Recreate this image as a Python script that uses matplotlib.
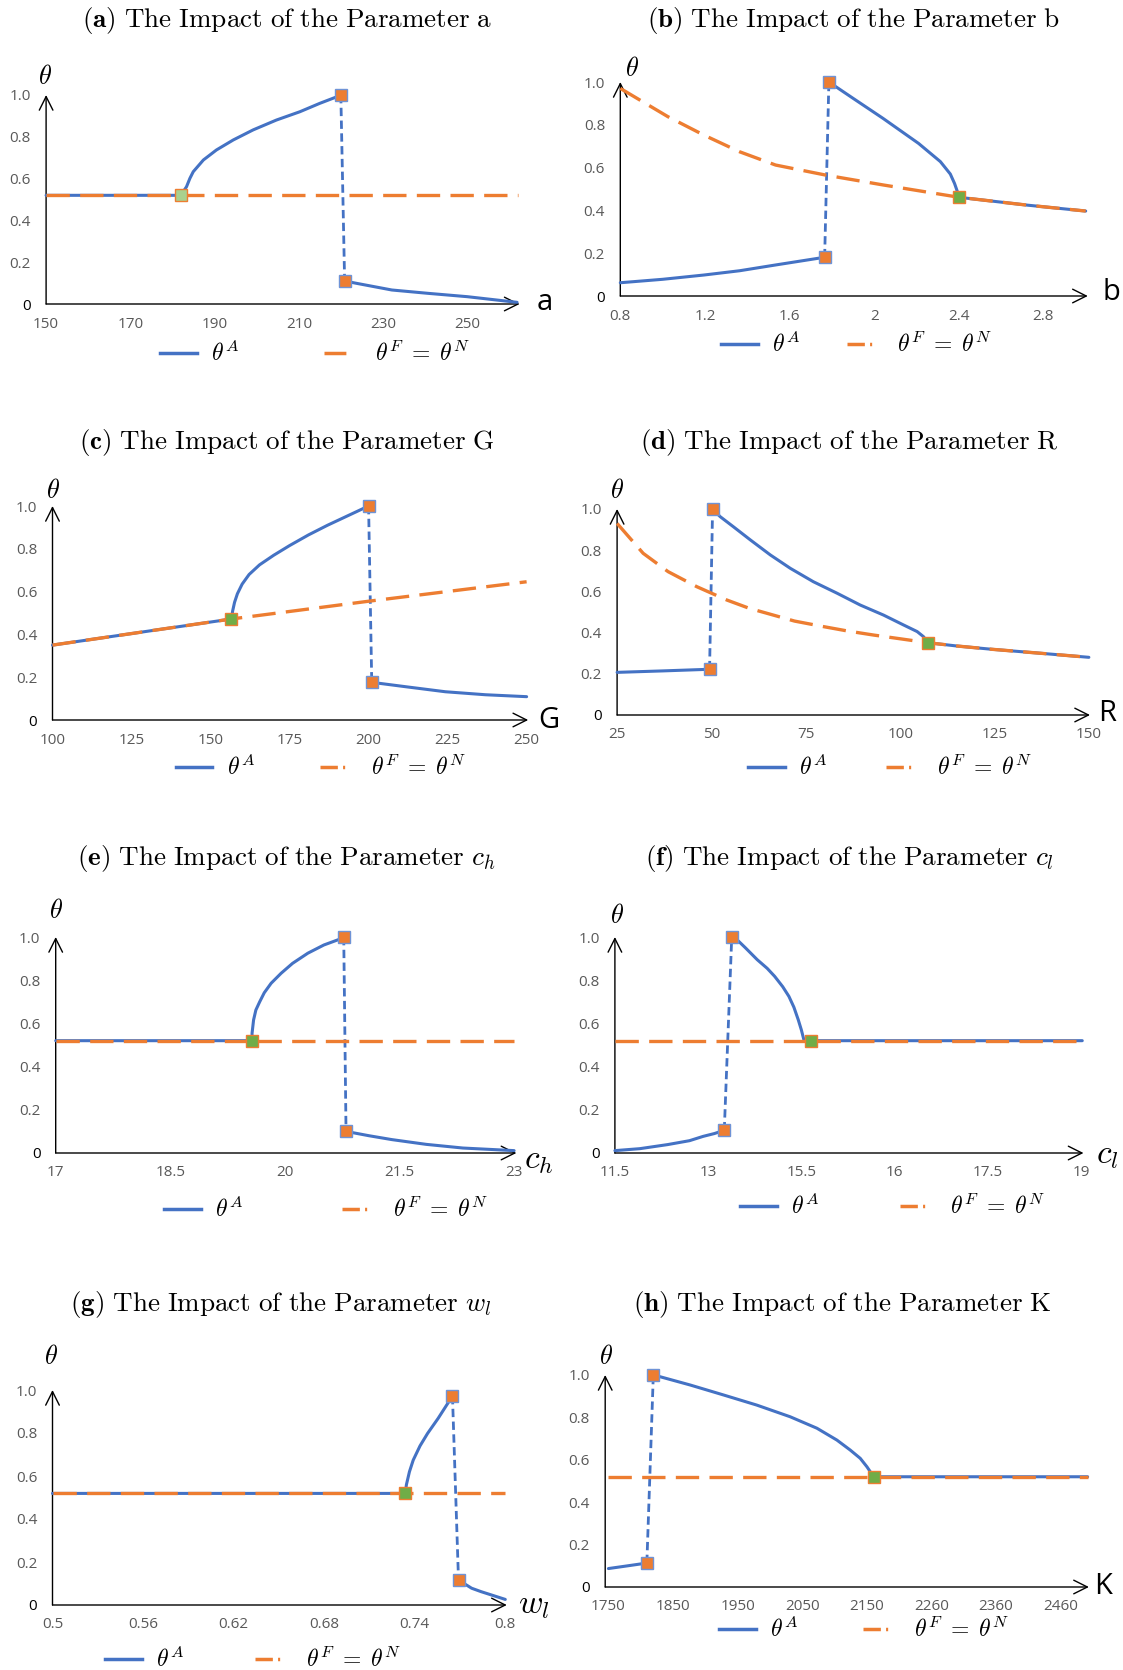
import matplotlib
matplotlib.use('Agg')
import matplotlib.pyplot as plt
from matplotlib.lines import Line2D

plt.rcParams['mathtext.fontset'] = 'cm'
plt.rcParams['font.family'] = ['Open Sans', 'DejaVu Sans']

BLUE = '#4472C4'
ORANGE = '#ED7D31'
GREEN = '#70AD47'
LGREEN = '#A9D18E'
GRAY = '#595959'

# ---------------- data ----------------
y_ticks = [0, 0.2, 0.4, 0.6, 0.8, 1.0]
y_ticklabels = ['0', '0.2', '0.4', '0.6', '0.8', '1.0']

# (a) parameter a
a_ticks = [150, 170, 190, 210, 230, 250]
a_ticklabels = ['150', '170', '190', '210', '230', '250']
a_ff_x = [150, 262]
a_ff_y = [0.52, 0.52]
a_A1_x = [150, 182.1, 182.6, 183.3, 184.1, 184.9, 187.3, 190.4, 194.4, 199.1, 204.6, 210.2, 214.9, 218.9, 219.9]
a_A1_y = [0.52, 0.52, 0.54, 0.561, 0.601, 0.633, 0.689, 0.737, 0.785, 0.833, 0.880, 0.920, 0.960, 0.991, 1.0]
a_A2_x = [220.8, 223.6, 232, 240.6, 249.9, 261.7]
a_A2_y = [0.11, 0.099, 0.067, 0.051, 0.035, 0.008]
a_jump_x = [219.9, 220.8]
a_jump_y = [1.0, 0.11]
a_green = (182.1, 0.52)

# (b) parameter b
b_ticks = [0.8, 1.2, 1.6, 2.0, 2.4, 2.8]
b_ticklabels = ['0.8', '1.2', '1.6', '2', '2.4', '2.8']
b_ff_x = [0.8, 1.025, 1.195, 1.364, 1.534, 1.771, 2.042, 2.403, 2.72, 3.0]
b_ff_y = [0.97, 0.838, 0.752, 0.674, 0.612, 0.565, 0.519, 0.461, 0.425, 0.397]
b_A1_x = [0.8, 1.0, 1.195, 1.364, 1.534, 1.766]
b_A1_y = [0.062, 0.078, 0.098, 0.118, 0.145, 0.181]
b_A2_x = [1.786, 1.9, 2.042, 2.21, 2.313, 2.36, 2.38, 2.403, 2.72, 3.0]
b_A2_y = [1.0, 0.924, 0.83, 0.713, 0.628, 0.57, 0.526, 0.461, 0.425, 0.397]
b_jump_x = [1.766, 1.786]
b_jump_y = [0.181, 1.0]
b_green = (2.403, 0.461)

# (c) parameter G
c_ticks = [100, 125, 150, 175, 200, 225, 250]
c_ticklabels = ['100', '125', '150', '175', '200', '225', '250']
c_ff_x = [100, 156.6, 200, 250]
c_ff_y = [0.35, 0.472, 0.555, 0.646]
c_A1_x = [100, 156.6, 157.0, 157.6, 158.5, 160.0, 162.2, 165.5, 170, 175, 181, 187, 193.5, 200]
c_A1_y = [0.35, 0.472, 0.51, 0.55, 0.59, 0.635, 0.68, 0.725, 0.77, 0.815, 0.865, 0.91, 0.955, 1.0]
c_A2_x = [201, 212, 224.3, 237, 250]
c_A2_y = [0.176, 0.155, 0.132, 0.118, 0.109]
c_jump_x = [200, 201]
c_jump_y = [1.0, 0.176]
c_green = (156.6, 0.472)

# (d) parameter R
d_ticks = [25, 50, 75, 100, 125, 150]
d_ticklabels = ['25', '50', '75', '100', '125', '150']
d_ff_x = [25, 31.9, 38.5, 46.1, 54.1, 60, 66.4, 72, 79.7, 86, 93, 100, 107.3, 115, 124.3, 137, 150]
d_ff_y = [0.93, 0.785, 0.696, 0.623, 0.558, 0.518, 0.485, 0.456, 0.429, 0.408, 0.388, 0.37, 0.351, 0.335, 0.319, 0.30, 0.28]
d_A1_x = [25, 37, 49.5]
d_A1_y = [0.207, 0.214, 0.222]
d_A2_x = [50.3, 52.3, 55.8, 60.3, 65.6, 70.9, 77.0, 83.3, 89.4, 95.6, 100.9, 104.5, 106.2, 107.3, 115, 124.3, 137, 150]
d_A2_y = [1.0, 0.963, 0.914, 0.850, 0.777, 0.712, 0.647, 0.591, 0.534, 0.485, 0.437, 0.405, 0.380, 0.351, 0.335, 0.319, 0.30, 0.28]
d_jump_x = [49.5, 50.3]
d_jump_y = [0.222, 1.0]
d_green = (107.3, 0.351)

# (e) parameter c_h
e_ticks = [17, 18.5, 20, 21.5, 23]
e_ticklabels = ['17', '18.5', '20', '21.5', '23']
e_ff_x = [17, 23]
e_ff_y = [0.52, 0.52]
e_A1_x = [17, 19.57, 19.57, 19.59, 19.62, 19.67, 19.73, 19.82, 19.95, 20.10, 20.30, 20.51, 20.71, 20.77]
e_A1_y = [0.52, 0.52, 0.554, 0.616, 0.662, 0.700, 0.742, 0.786, 0.832, 0.878, 0.925, 0.963, 0.989, 1.0]
e_A2_x = [20.8, 21.1, 21.4, 21.85, 22.33, 23.0]
e_A2_y = [0.10, 0.08, 0.062, 0.04, 0.023, 0.011]
e_jump_x = [20.77, 20.8]
e_jump_y = [1.0, 0.10]
e_green = (19.57, 0.52)

# (f) parameter c_l
f_ticks = [11.5, 13, 14.5, 16, 17.5, 19]
f_ticklabels = ['11.5', '13', '15.5', '16', '17.5', '19']
f_ff_x = [11.5, 19.02]
f_ff_y = [0.52, 0.52]
f_A1_x = [11.5, 11.9, 12.35, 12.7, 12.92, 13.1, 13.26]
f_A1_y = [0.011, 0.02, 0.039, 0.057, 0.077, 0.09, 0.105]
f_A2_x = [13.42, 13.6, 13.79, 13.95, 14.07, 14.2, 14.3, 14.38, 14.45, 14.5, 14.54, 14.66, 19.02]
f_A2_y = [1.0, 0.95, 0.895, 0.855, 0.818, 0.77, 0.725, 0.675, 0.617, 0.57, 0.525, 0.52, 0.52]
f_jump_x = [13.26, 13.38]
f_jump_y = [0.105, 1.0]
f_green = (14.66, 0.52)

# (g) parameter w_l
g_ticks = [0.5, 0.56, 0.62, 0.68, 0.74, 0.8]
g_ticklabels = ['0.5', '0.56', '0.62', '0.68', '0.74', '0.8']
g_ff_x = [0.5, 0.8]
g_ff_y = [0.519, 0.519]
g_A1_x = [0.5, 0.7337, 0.7345, 0.7365, 0.739, 0.7435, 0.7485, 0.7555, 0.765]
g_A1_y = [0.519, 0.519, 0.56, 0.62, 0.674, 0.74, 0.798, 0.868, 0.972]
g_A2_x = [0.769, 0.7777, 0.784, 0.80]
g_A2_y = [0.116, 0.078, 0.062, 0.026]
g_jump_x = [0.765, 0.769]
g_jump_y = [0.972, 0.116]
g_green = (0.7337, 0.519)

# (h) parameter K
h_ticks = [1750, 1850, 1950, 2050, 2150, 2250, 2350, 2450]
h_ticklabels = ['1750', '1850', '1950', '2050', '2150', '2260', '2360', '2460']
h_ff_x = [1750, 2492]
h_ff_y = [0.52, 0.52]
h_A1_x = [1750, 1780, 1809.5]
h_A1_y = [0.087, 0.10, 0.113]
h_A2_x = [1819.5, 1829.8, 1876.4, 1928, 1979.8, 2031.4, 2072.8, 2103.8, 2124.4, 2139.9, 2150.3, 2155.4, 2160.5, 2492]
h_A2_y = [1.0, 0.992, 0.953, 0.906, 0.858, 0.803, 0.749, 0.693, 0.646, 0.607, 0.567, 0.544, 0.52, 0.52]
h_jump_x = [1809.5, 1819.5]
h_jump_y = [0.113, 1.0]
h_green = (2160.5, 0.52)

# ---------------- layout ----------------
W, H = 1123, 1670
fig = plt.figure(figsize=(W / 100, H / 100), dpi=100)


def fx(px):
    return px / W


def fy(py):
    return 1 - py / H


panels = [
    dict(title=r'$\mathbf{(a)}\ \mathrm{The\ Impact\ of\ the\ Parameter\ a}$', tpos=(287, 21),
         rect=(46.1, 519.6, 95, 304), xlim=(150, 262.3), ticks=a_ticks, tl=a_ticklabels,
         ff=(a_ff_x, a_ff_y), A1=(a_A1_x, a_A1_y), A2=(a_A2_x, a_A2_y), jump=(a_jump_x, a_jump_y),
         green=a_green, gcol=LGREEN, theta=(45, 77), xl='a', xlmath=False, xlpos=(545, 303),
         leg=(315, 354), colsp=3.6, legstyle='plain'),
    dict(title=r'$\mathbf{(b)}\ \mathrm{The\ Impact\ of\ the\ Parameter\ b}$', tpos=(854, 21),
         rect=(620.3, 1087.8, 82, 296), xlim=(0.8, 3.01), ticks=b_ticks, tl=b_ticklabels,
         ff=(b_ff_x, b_ff_y), A1=(b_A1_x, b_A1_y), A2=(b_A2_x, b_A2_y), jump=(b_jump_x, b_jump_y),
         green=b_green, gcol=GREEN, theta=(632, 70), xl='b', xlmath=False, xlpos=(1111, 293),
         leg=(857, 345), colsp=1.96, legstyle='dot'),
    dict(title=r'$\mathbf{(c)}\ \mathrm{The\ Impact\ of\ the\ Parameter\ G}$', tpos=(287, 443),
         rect=(52.5, 528.2, 506, 720), xlim=(100, 250.5), ticks=c_ticks, tl=c_ticklabels,
         ff=(c_ff_x, c_ff_y), A1=(c_A1_x, c_A1_y), A2=(c_A2_x, c_A2_y), jump=(c_jump_x, c_jump_y),
         green=c_green, gcol=GREEN, theta=(52.5, 492), xl='G', xlmath=False, xlpos=(549, 721),
         leg=(321, 768), colsp=2.77, legstyle='dot'),
    dict(title=r'$\mathbf{(d)}\ \mathrm{The\ Impact\ of\ the\ Parameter\ R}$', tpos=(849, 443),
         rect=(617.1, 1090, 509, 715), xlim=(25, 150.3), ticks=d_ticks, tl=d_ticklabels,
         ff=(d_ff_x, d_ff_y), A1=(d_A1_x, d_A1_y), A2=(d_A2_x, d_A2_y), jump=(d_jump_x, d_jump_y),
         green=d_green, gcol=GREEN, theta=(617, 492), xl='R', xlmath=False, xlpos=(1107, 713),
         leg=(890, 768), colsp=2.5, legstyle='dot'),
    dict(title=r'$\mathbf{(e)}\ \mathrm{The\ Impact\ of\ the\ Parameter}\ c_h$', tpos=(286, 858),
         rect=(55.7, 516.4, 937, 1153), xlim=(17, 23.03), ticks=e_ticks, tl=e_ticklabels,
         ff=(e_ff_x, e_ff_y), A1=(e_A1_x, e_A1_y), A2=(e_A2_x, e_A2_y), jump=(e_jump_x, e_jump_y),
         green=e_green, gcol=GREEN, theta=(55.7, 912), xl=r'$c_h$', xlmath=True, xlpos=(539, 1160),
         leg=(326, 1210), colsp=4.2, legstyle='dot'),
    dict(title=r'$\mathbf{(f)}\ \mathrm{The\ Impact\ of\ the\ Parameter}\ c_l$', tpos=(849, 858),
         rect=(614.9, 1083.5, 937, 1153), xlim=(11.5, 19.04), ticks=f_ticks, tl=f_ticklabels,
         ff=(f_ff_x, f_ff_y), A1=(f_A1_x, f_A1_y), A2=(f_A2_x, f_A2_y), jump=(f_jump_x, f_jump_y),
         green=f_green, gcol=GREEN, theta=(617, 917), xl=r'$c_l$', xlmath=True, xlpos=(1107, 1155),
         leg=(893, 1207), colsp=3.4, legstyle='dot'),
    dict(title=r'$\mathbf{(g)}\ \mathrm{The\ Impact\ of\ the\ Parameter}\ w_l$', tpos=(281, 1305),
         rect=(52.5, 506.8, 1390, 1605), xlim=(0.5, 0.801), ticks=g_ticks, tl=g_ticklabels,
         ff=(g_ff_x, g_ff_y), A1=(g_A1_x, g_A1_y), A2=(g_A2_x, g_A2_y), jump=(g_jump_x, g_jump_y),
         green=g_green, gcol=GREEN, theta=(51.4, 1357), xl=r'$w_l$', xlmath=True, xlpos=(534, 1605),
         leg=(253, 1660), colsp=3.0, legstyle='dot'),
    dict(title=r'$\mathbf{(h)}\ \mathrm{The\ Impact\ of\ the\ Parameter\ K}$', tpos=(842, 1305),
         rect=(605.2, 1088.9, 1375, 1587), xlim=(1745, 2494), ticks=h_ticks, tl=h_ticklabels,
         ff=(h_ff_x, h_ff_y), A1=(h_A1_x, h_A1_y), A2=(h_A2_x, h_A2_y), jump=(h_jump_x, h_jump_y),
         green=h_green, gcol=GREEN, theta=(606, 1358), xl='K', xlmath=False, xlpos=(1103, 1587),
         leg=(864, 1630), colsp=2.74, legstyle='dot'),
]

for p in panels:
    l, r, t, b = p['rect']
    ax = fig.add_axes([fx(l), fy(b), fx(r - l), (b - t) / H])
    ax.set_xlim(*p['xlim'])
    ax.set_ylim(0, 1)
    for s in ax.spines.values():
        s.set_visible(False)
    ax.patch.set_alpha(0)
    for xy in [(1, 0), (0, 1)]:
        ax.annotate('', xy=xy, xytext=(0, 0), xycoords='axes fraction', textcoords='axes fraction',
                    arrowprops=dict(arrowstyle='->,head_length=0.7,head_width=0.35', lw=1.0,
                                    color='black', shrinkA=0, shrinkB=0, mutation_scale=14),
                    zorder=1)
    ax.set_xticks(p['ticks'])
    ax.set_xticklabels(p['tl'])
    ax.set_yticks(y_ticks)
    ax.set_yticklabels(y_ticklabels)
    ax.tick_params(axis='both', length=0, labelsize=11, colors=GRAY)
    ax.tick_params(axis='x', pad=9)
    ax.tick_params(axis='y', pad=11)
    ax.get_yticklabels()[0].set_color('black')

    # blue (theta^A) curves
    ax.plot(*p['A1'], color=BLUE, lw=2.2, solid_capstyle='round', solid_joinstyle='round',
            clip_on=False, zorder=2)
    ax.plot(*p['A2'], color=BLUE, lw=2.2, solid_capstyle='round', solid_joinstyle='round',
            clip_on=False, zorder=2)
    ax.plot(*p['jump'], color=BLUE, lw=2.0, dashes=(3, 1.6), clip_on=False, zorder=2)
    # orange (theta^F = theta^N)
    ax.plot(*p['ff'], color=ORANGE, lw=2.4, dashes=(7, 3.1), clip_on=False, zorder=3)
    # markers
    ax.plot(p['jump'][0], p['jump'][1], 's', ms=8.5, mfc=ORANGE, mec='#6F93D6', mew=1.0,
            clip_on=False, zorder=5)
    ax.plot([p['green'][0]], [p['green'][1]], 's', ms=8.5, mfc=p['gcol'], mec=ORANGE, mew=1.0,
            clip_on=False, zorder=5)

    # titles and axis labels
    fig.text(fx(p['tpos'][0]), fy(p['tpos'][1]), p['title'], ha='center', va='center', fontsize=19.5)
    fig.text(fx(p['theta'][0]), fy(p['theta'][1]), r'$\theta$', ha='center', va='center', fontsize=19)
    if p['xlmath']:
        fig.text(fx(p['xlpos'][0]), fy(p['xlpos'][1]), p['xl'], ha='center', va='center', fontsize=24)
    else:
        fig.text(fx(p['xlpos'][0]), fy(p['xlpos'][1]), p['xl'], ha='center', va='center', fontsize=21)

    # legend
    h1 = Line2D([], [], color=BLUE, lw=2.5)
    if p['legstyle'] == 'plain':
        h2 = Line2D([], [], color=ORANGE, lw=2.5, dashes=(6.3, 20))
    else:
        h2 = Line2D([], [], color=ORANGE, lw=2.5, dashes=(5, 1.5, 0.6, 20))
    fig.legend([h1, h2], [r'$\theta^A$', r'$\theta^F \;=\; \theta^N$'], loc='center',
               bbox_to_anchor=(fx(p['leg'][0]), fy(p['leg'][1])), bbox_transform=fig.transFigure,
               ncol=2, frameon=False, fontsize=17, handlelength=1.55, handletextpad=0.6,
               columnspacing=p['colsp'], borderpad=0, borderaxespad=0)

fig.savefig('out.png', dpi=100)
